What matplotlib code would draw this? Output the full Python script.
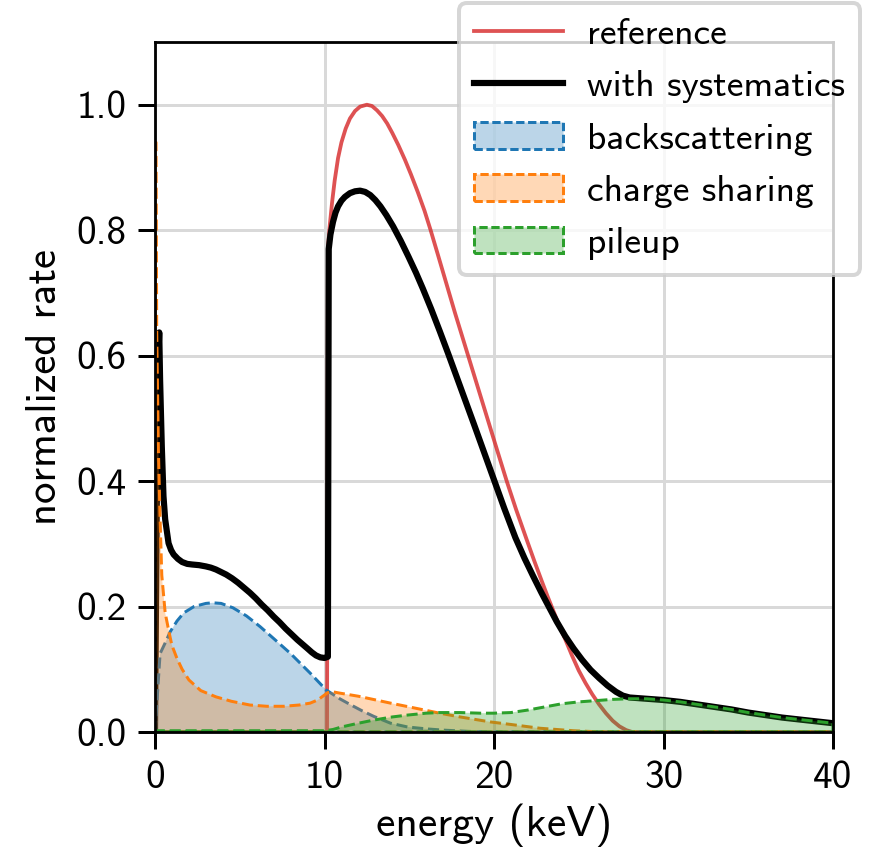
import matplotlib

matplotlib.use("Agg")
from matplotlib import pyplot as plt

# reference spectrum
ref_x = [0, 10.15, 10.2, 10.3, 10.45, 10.6, 10.8, 11.0, 11.25, 11.5, 11.8, 12.1, 12.5, 12.8, 13.1,
         13.4, 13.7, 14.0, 14.35, 14.75, 15.1, 15.5, 15.9, 16.25, 16.7, 17.2, 17.7, 18.2, 18.7, 19.2,
         19.7, 20.2, 20.75, 21.3, 21.95, 22.4, 22.84, 23.15, 23.43, 23.8, 24.2, 24.6, 25.0, 25.4, 25.8,
         26.2, 26.6, 27.0, 27.4, 27.8, 28.15, 40]
ref_y = [0, 0, 0.77, 0.805, 0.845, 0.879, 0.915, 0.94, 0.962, 0.978, 0.99, 0.997, 1.0, 0.998, 0.991,
         0.982, 0.970, 0.955, 0.936, 0.912, 0.889, 0.861, 0.831, 0.801, 0.760, 0.714, 0.668, 0.624,
         0.580, 0.536, 0.492, 0.448, 0.400, 0.355, 0.305, 0.271, 0.239, 0.217, 0.198, 0.173, 0.148,
         0.122, 0.098, 0.078, 0.060, 0.044, 0.030, 0.018, 0.009, 0.003, 0.0, 0.0]

# spectrum with all systematics applied
sys_x = [0, 0.1, 0.2, 0.25, 0.3, 0.4, 0.5, 0.6, 0.8, 0.95, 1.1, 1.35, 1.6, 1.9, 2.2, 2.6, 3.0, 3.3,
         3.6, 3.9, 4.2, 4.55, 4.9, 5.25, 5.6, 5.95, 6.3, 6.65, 7.0, 7.35, 7.7, 8.05, 8.4, 8.7, 9.0,
         9.25, 9.5, 9.75, 10.0, 10.2, 10.25, 10.35, 10.5, 10.65, 10.8, 11.0, 11.2, 11.5, 11.8, 12.1,
         12.4, 12.7, 13.0, 13.3, 13.65, 14.05, 14.5, 14.95, 15.4, 15.8, 16.3, 16.8, 17.3, 17.8, 18.3,
         18.8, 19.4, 20.0, 20.6, 21.26, 21.8, 22.3, 22.8, 23.23, 23.7, 24.2, 24.7, 25.2, 25.7, 26.2,
         26.7, 27.2, 27.6, 28.0, 28.5, 29, 30, 31, 32, 33, 34, 35, 36, 37, 38, 39, 40]
sys_y = [0, 0.35, 0.6, 0.637, 0.562, 0.456, 0.376, 0.339, 0.301, 0.29, 0.283, 0.276, 0.271, 0.268,
         0.267, 0.266, 0.264, 0.262, 0.259, 0.255, 0.251, 0.245, 0.238, 0.230, 0.222, 0.213, 0.203,
         0.194, 0.184, 0.175, 0.165, 0.156, 0.147, 0.140, 0.133, 0.127, 0.122, 0.119, 0.118, 0.12,
         0.77, 0.793, 0.813, 0.828, 0.838, 0.847, 0.853, 0.859, 0.862, 0.863, 0.861, 0.856, 0.848,
         0.838, 0.824, 0.806, 0.783, 0.758, 0.732, 0.707, 0.674, 0.639, 0.603, 0.566, 0.529, 0.492,
         0.447, 0.402, 0.357, 0.310, 0.277, 0.249, 0.222, 0.200, 0.176, 0.153, 0.133, 0.115, 0.099,
         0.086, 0.074, 0.064, 0.058, 0.055, 0.054, 0.053, 0.051, 0.048, 0.044, 0.04, 0.036, 0.031,
         0.027, 0.023, 0.02, 0.017, 0.014]

# individual contributions
back_x = [0, 0.3, 0.6, 0.9, 1.3, 1.7, 2.3, 3.0, 3.4, 3.9, 4.6, 5.4, 6.2, 7.0, 8.0, 9.15, 10.1, 10.9,
          11.5, 12.2, 12.9, 13.9, 14.9, 16.0, 17.0, 18.5, 20.0, 40]
back_y = [0, 0.125, 0.142, 0.16, 0.177, 0.19, 0.2, 0.205, 0.206, 0.205, 0.198, 0.185, 0.168, 0.149,
          0.125, 0.094, 0.067, 0.053, 0.044, 0.034, 0.025, 0.014, 0.008, 0.005, 0.003, 0.001, 0.0, 0.0]

share_x = [0, 0.06, 0.1, 0.2, 0.3, 0.4, 0.6, 0.8, 0.9, 1.0, 1.3, 1.6, 2.0, 2.7, 3.6, 4.5, 5.6, 6.6, 7.6,
           8.5, 9.15, 9.6, 9.9, 10.2, 10.5, 10.9, 12.0, 13.9, 15.0, 16.8, 18.0, 19.8, 21.0, 22.7, 24.7,
           26.0, 27.0, 40]
share_y = [0.94, 0.94, 0.64, 0.45, 0.34, 0.25, 0.19, 0.163, 0.15, 0.138, 0.117, 0.1, 0.083, 0.066,
           0.056, 0.049, 0.043, 0.041, 0.041, 0.043, 0.046, 0.051, 0.057, 0.063, 0.064, 0.062, 0.057,
           0.046, 0.040, 0.030, 0.024, 0.016, 0.012, 0.006, 0.002, 0.0005, 0.0, 0.0]

pile_x = [0, 10, 10.5, 11, 12, 12.9, 14, 14.9, 16, 16.8, 18, 19.2, 20, 21, 22, 23, 24, 25, 26, 27, 28,
          29, 30, 31, 32, 33, 34, 35, 36, 37, 38, 39, 40]
pile_y = [0.002, 0.002, 0.004, 0.008, 0.014, 0.019, 0.024, 0.027, 0.03, 0.031, 0.031, 0.030, 0.030,
          0.031, 0.035, 0.040, 0.045, 0.048, 0.050, 0.052, 0.053, 0.053, 0.051, 0.048, 0.044, 0.04,
          0.036, 0.031, 0.027, 0.023, 0.02, 0.017, 0.014]

components = [
    ("backscattering", back_x, back_y, "tab:blue"),
    ("charge sharing", share_x, share_y, "tab:orange"),
    ("pileup", pile_x, pile_y, "tab:green"),
]

plt.rcParams["font.family"] = "cmss10"
plt.rcParams["font.size"] = 9.8
plt.rcParams["axes.unicode_minus"] = False
plt.rcParams["axes.linewidth"] = 0.7

fig = plt.figure(figsize=(874 / 288, 848 / 288), dpi=288)
ax = fig.add_axes([155 / 874, 1 - 732 / 848, 678 / 874, 690 / 848])

ax.plot(ref_x, ref_y, color="tab:red", alpha=0.8, lw=0.95, label="reference")
ax.plot(sys_x, sys_y, color="black", lw=1.55, label="with systematics")
for name, x, y, c in components:
    ax.fill_between(x, y, facecolor=matplotlib.colors.to_rgba(c, 0.3), edgecolor=c,
                    linestyle="--", lw=0.75, zorder=2, label=name)

ax.set_xlim(0, 40)
ax.set_ylim(0, 1.1)
ax.set_xticks([0, 10, 20, 30, 40])
ax.set_yticks([0.0, 0.2, 0.4, 0.6, 0.8, 1.0])
ax.grid(color="0.85", lw=0.75)
ax.tick_params(direction="out", length=4.2, width=0.75, pad=3)
ax.set_xlabel("energy (keV)", fontsize=10.9, labelpad=2)
ax.set_ylabel("normalized rate", fontsize=10.7, labelpad=3)

ax.legend(loc="upper right", bbox_to_anchor=(1.04, 1.0565), borderaxespad=0,
          fontsize=9.4, handlelength=2.35, handletextpad=0.65)

fig.savefig("out.png", dpi=288)
